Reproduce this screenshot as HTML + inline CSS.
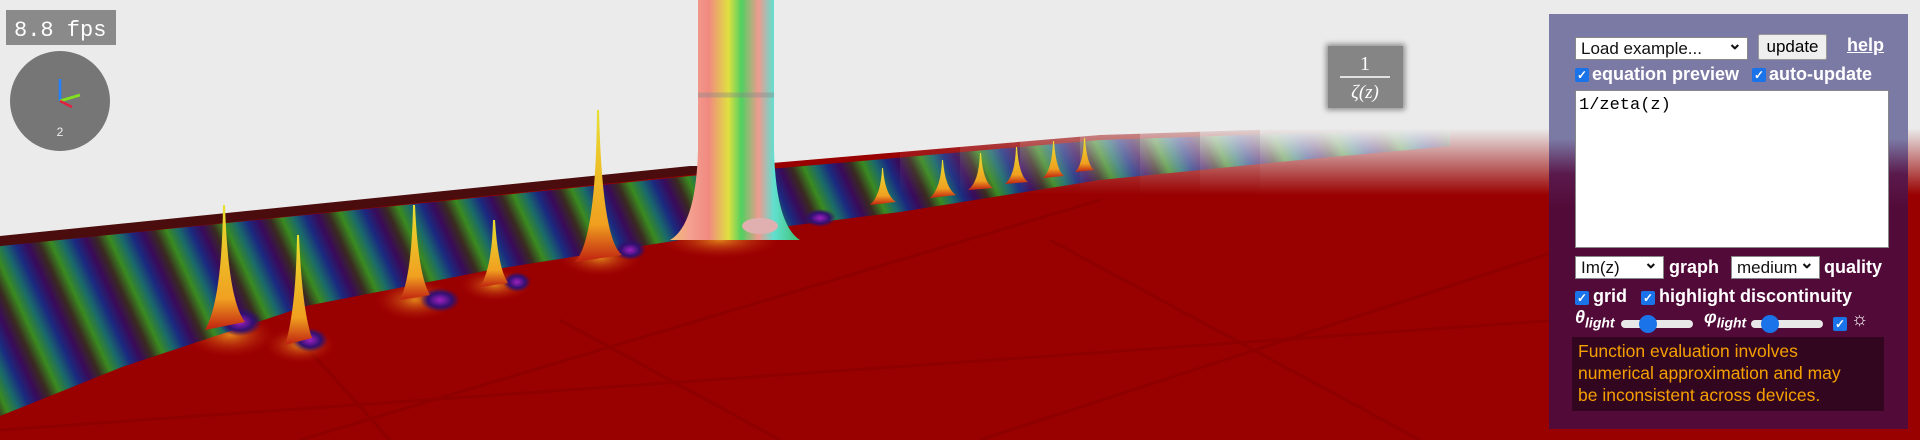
<!DOCTYPE html>
<html><head><meta charset="utf-8"><style>
body{margin:0;width:1920px;height:440px;overflow:hidden;position:relative;font-family:"Liberation Sans",sans-serif;background:#ebebeb}
#scene{position:absolute;left:0;top:0}
.ab{position:absolute}
.panel{left:1549px;top:14px;width:359px;height:415px;background:linear-gradient(#7b7aa5 0,#7b7aa5 125px,#5a1a4c 160px,#520a38 195px,#520a38 100%)}
.sel{background:#fff;border:1px solid #888;font-size:17px;color:#111;box-sizing:border-box;padding:0 5px;height:23px;line-height:21px}
.sel:after{content:"⌄";position:absolute;right:5px;top:-5px;font-size:17px;font-weight:bold}
.lbl{color:#fff;font-weight:bold;font-size:18px;line-height:20px}
.cb{width:14px;height:14px;background:#1a73e8;border-radius:2px;color:#fff;font-size:12px;line-height:14px;text-align:center;font-weight:bold}
.slider{height:8px;background:#e8e8e8;border-radius:4px}
.knob{width:18px;height:18px;border-radius:9px;background:#1a73e8;top:-5px}
</style></head><body>
<svg id="scene" width="1920" height="440">
<defs>
<linearGradient id="stripes" x1="0" y1="0" x2="50" y2="-23" gradientUnits="userSpaceOnUse" spreadMethod="repeat">
<stop offset="0" stop-color="#3a8a20"/><stop offset="0.2" stop-color="#1a6a6a"/><stop offset="0.4" stop-color="#1a2a80"/><stop offset="0.6" stop-color="#3a0a5a"/><stop offset="0.8" stop-color="#3a2a20"/><stop offset="1" stop-color="#3a8a20"/>
</linearGradient>
<linearGradient id="vfade" x1="0" y1="0" x2="0" y2="1"><stop offset="0" stop-color="#ebebeb" stop-opacity="1"/><stop offset="0.3" stop-color="#ebebeb" stop-opacity="1"/><stop offset="1" stop-color="#ebebeb" stop-opacity="0"/></linearGradient>
<linearGradient id="col" x1="0" y1="0" x2="1" y2="0"><stop offset="0" stop-color="#f0c070"/><stop offset="0.15" stop-color="#f4a090"/><stop offset="0.3" stop-color="#f08a80"/><stop offset="0.45" stop-color="#e0e040"/><stop offset="0.55" stop-color="#50d060"/><stop offset="0.68" stop-color="#f09a90"/><stop offset="0.8" stop-color="#60e0d0"/><stop offset="1" stop-color="#40c070"/></linearGradient>
<linearGradient id="spk" x1="0" y1="0" x2="0" y2="1"><stop offset="0" stop-color="#e8e030"/><stop offset="0.75" stop-color="#f0a020"/><stop offset="1" stop-color="#c02010"/></linearGradient>
<radialGradient id="pit"><stop offset="0" stop-color="#a020c0"/><stop offset="0.6" stop-color="#301070"/><stop offset="1" stop-color="#301070" stop-opacity="0"/></radialGradient>
<radialGradient id="glow"><stop offset="0" stop-color="#f0a020" stop-opacity="0.8"/><stop offset="1" stop-color="#c02010" stop-opacity="0"/></radialGradient>
<filter id="blur"><feGaussianBlur stdDeviation="3"/></filter>
</defs>
<rect width="1920" height="440" fill="#ebebeb"/>
<!-- red floor -->
<polygon points="0,240 690,170 1100,135 1560,120 1920,110 1920,440 0,440" fill="#990000"/>
<!-- grid lines -->
<g stroke="#7a0000" stroke-width="3" opacity="0.35">
<line x1="300" y1="440" x2="1100" y2="200"/><line x1="980" y1="440" x2="1560" y2="250"/>
<line x1="560" y1="320" x2="780" y2="440"/><line x1="1050" y1="240" x2="1420" y2="440"/>
<line x1="300" y1="340" x2="390" y2="440"/><line x1="0" y1="430" x2="1560" y2="320"/>
</g>
<g fill="url(#glow)">
<ellipse cx="230" cy="335" rx="45" ry="22"/><ellipse cx="300" cy="345" rx="35" ry="18"/><ellipse cx="415" cy="300" rx="40" ry="20"/><ellipse cx="495" cy="285" rx="35" ry="16"/><ellipse cx="600" cy="258" rx="40" ry="18"/><ellipse cx="720" cy="240" rx="60" ry="18"/>
</g>
<!-- stripes band -->
<polygon points="0,246 690,176 1100,140 1450,128 1450,146 1300,160 1100,180 900,212 686,239 490,270 306,306 122,367 40,400 0,416" fill="url(#stripes)"/>
<g fill="url(#pit)">
<ellipse cx="240" cy="322" rx="22" ry="14"/><ellipse cx="310" cy="340" rx="18" ry="12"/><ellipse cx="440" cy="300" rx="20" ry="12"/><ellipse cx="517" cy="282" rx="14" ry="10"/><ellipse cx="630" cy="250" rx="16" ry="10"/><ellipse cx="820" cy="218" rx="16" ry="9"/>
</g>
<!-- wall edge -->
<polygon points="0,236 690,166 700,166 700,174 0,246" fill="#4a0c0c"/>
<!-- horizon fade on right -->
<g fill="url(#vfade)">
<rect x="900" y="100" width="60" height="95" opacity="0.15"/>
<rect x="960" y="100" width="60" height="95" opacity="0.3"/>
<rect x="1020" y="100" width="60" height="95" opacity="0.45"/>
<rect x="1080" y="100" width="60" height="95" opacity="0.6"/>
<rect x="1140" y="100" width="60" height="95" opacity="0.75"/>
<rect x="1200" y="100" width="60" height="95" opacity="0.9"/>
<rect x="1260" y="100" width="660" height="95"/>
</g>
<!-- spikes -->
<g fill="url(#spk)">
<path d="M205,330 Q222,300 223,205 L225,205 Q228,300 245,322 Z"/>
<path d="M285,345 Q296,310 297,235 L299,235 Q302,310 312,338 Z"/>
<path d="M400,300 Q412,275 413,205 L415,205 Q418,275 430,295 Z"/>
<path d="M480,287 Q492,268 493,220 L495,220 Q498,268 508,283 Z"/>
<path d="M575,262 Q596,240 597,110 L599,110 Q602,240 622,255 Z"/>
<path d="M870,205 Q881,195 882,168 L883,168 Q885,195 896,202 Z"/>
<path d="M930,198 Q941,188 942,160 L943,160 Q945,188 956,195 Z"/>
<path d="M968,190 Q979,182 980,153 L981,153 Q983,182 993,188 Z"/>
<path d="M1005,184 Q1015,176 1016,147 L1017,147 Q1019,176 1028,182 Z"/>
<path d="M1043,178 Q1052,170 1053,141 L1054,141 Q1056,170 1064,176 Z"/>
<path d="M1075,172 Q1083,165 1084,138 L1085,138 Q1087,165 1094,170 Z"/>
</g>
<!-- column -->
<path d="M670,240 Q696,225 698,150 L698,0 L774,0 L774,150 Q776,225 800,240 Z" fill="url(#col)"/>
<ellipse cx="760" cy="226" rx="18" ry="8" fill="#e0b0b0"/>
<line x1="698" y1="95" x2="774" y2="95" stroke="#888" stroke-width="5" opacity="0.4"/>
<!-- equation preview -->
<rect x="1326" y="44" width="79" height="66" fill="#808080" filter="url(#blur)" opacity="0.9"/>
<rect x="1328" y="46" width="75" height="62" fill="#858585"/>
<text x="1365" y="70" fill="#fff" font-family="Liberation Serif,serif" font-size="20" text-anchor="middle">1</text>
<line x1="1340" y1="77" x2="1390" y2="77" stroke="#fff" stroke-width="1.5"/>
<text x="1365" y="98" fill="#fff" font-family="Liberation Serif,serif" font-size="19" font-style="italic" text-anchor="middle">ζ(z)</text>
<!-- fps -->
<rect x="6" y="10" width="110" height="35" fill="#8a8a8a"/>
<text x="14" y="36" fill="#fff" font-family="Liberation Mono,monospace" font-size="22">8.8 fps</text>
<!-- compass -->
<g>
<ellipse cx="60" cy="101" rx="50" ry="50" fill="#767676"/>
<line x1="60" y1="101" x2="60" y2="79" stroke="#2080ff" stroke-width="2.5"/>
<line x1="60" y1="101" x2="80" y2="95" stroke="#80e020" stroke-width="3"/>
<line x1="60" y1="101" x2="72" y2="107" stroke="#e02040" stroke-width="2.5"/>
<text x="60" y="136" fill="#eee" font-size="12" text-anchor="middle">2</text>
</g>
</svg>
<div class="ab panel">
<div class="ab sel" style="left:26px;top:23px;width:173px">Load example...</div>
<div class="ab" style="left:209px;top:20px;width:69px;height:26px;background:#efefef;border:1px solid #999;box-sizing:border-box;text-align:center;font-size:17px;line-height:24px;border-radius:2px">update</div>
<div class="ab lbl" style="left:298px;top:21px;text-decoration:underline">help</div>
<div class="ab cb" style="left:26px;top:54px">✓</div>
<div class="ab lbl" style="left:43px;top:50px">equation preview</div>
<div class="ab cb" style="left:203px;top:54px">✓</div>
<div class="ab lbl" style="left:220px;top:50px">auto-update</div>
<div class="ab" style="left:26px;top:76px;width:314px;height:158px;background:#fff;border:1px solid #888;box-sizing:border-box;font-family:'Liberation Mono',monospace;font-size:17px;padding:5px 3px">1/zeta(z)</div>
<div class="ab sel" style="left:26px;top:242px;width:89px">Im(z)</div>
<div class="ab lbl" style="left:120px;top:243px">graph</div>
<div class="ab sel" style="left:182px;top:242px;width:89px">medium</div>
<div class="ab lbl" style="left:275px;top:243px">quality</div>
<div class="ab cb" style="left:26px;top:277px">✓</div>
<div class="ab lbl" style="left:44px;top:272px">grid</div>
<div class="ab cb" style="left:92px;top:277px">✓</div>
<div class="ab lbl" style="left:110px;top:272px">highlight discontinuity</div>
<div class="ab lbl" style="left:26px;top:293px;font-style:italic">θ<sub style="font-size:14px">light</sub></div>
<div class="ab slider" style="left:72px;top:306px;width:72px"><div class="ab knob" style="left:18px"></div></div>
<div class="ab lbl" style="left:155px;top:293px;font-style:italic">φ<sub style="font-size:14px">light</sub></div>
<div class="ab slider" style="left:202px;top:306px;width:72px"><div class="ab knob" style="left:10px"></div></div>
<div class="ab cb" style="left:284px;top:303px">✓</div>
<div class="ab" style="left:302px;top:295px;color:#fff;font-size:19px">☼</div>
<div class="ab" style="left:23px;top:323px;width:312px;height:74px;background:#33061f;color:#f5a000;font-size:17.5px;line-height:22px;padding:3px 6px;box-sizing:border-box;white-space:nowrap">Function evaluation involves<br>numerical approximation and may<br>be inconsistent across devices.</div>
</div>
</body></html>
